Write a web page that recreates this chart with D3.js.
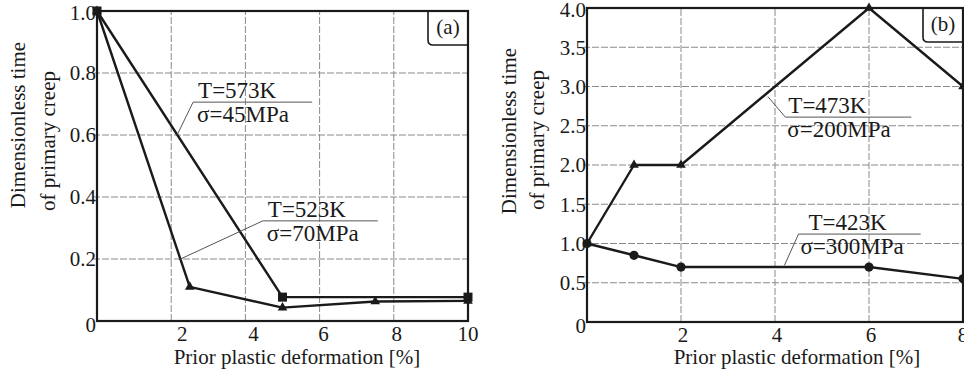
<!DOCTYPE html>
<html>
<head>
<meta charset="utf-8">
<script src="https://cdn.jsdelivr.net/npm/d3@7"></script>
<style>
  html, body { margin: 0; padding: 0; background: #fff; }
  svg { display: block; }
  .grid line { stroke: #8a8a8a; stroke-width: 1; stroke-dasharray: 7,2; }
  .frame { fill: none; stroke: #1a1a1a; stroke-width: 2.2; }
  .series { fill: none; stroke: #1a1a1a; stroke-width: 2.4; stroke-linejoin: round; }
  .leader { fill: none; stroke: #555; stroke-width: 1; }
</style>
</head>
<body>
<svg id="svg" width="964" height="376"></svg>
<script>
// ----- data -----
// panel (a)
const aXTicks = [2, 4, 6, 8, 10];
const aYTicks = [0, 0.2, 0.4, 0.6, 0.8, 1.0];
const aYTickLabels = ["0", "0.2", "0.4", "0.6", "0.8", "1.0"];
const aX573 = [0, 5, 10];
const aY573 = [1.0, 0.077, 0.077];
const aX523 = [0, 2.5, 5, 7.5, 10];
const aY523 = [1.0, 0.11, 0.043, 0.063, 0.065];

// panel (b)
const bXTicks = [2, 4, 6, 8];
const bYTicks = [0, 0.5, 1.0, 1.5, 2.0, 2.5, 3.0, 3.5, 4.0];
const bYTickLabels = ["0", "0.5", "1.0", "1.5", "2.0", "2.5", "3.0", "3.5", "4.0"];
const bX473 = [0, 1, 2, 6, 8];
const bY473 = [1.0, 2.0, 2.0, 4.0, 3.0];
const bX423 = [0, 1, 2, 6, 8];
const bY423 = [1.0, 0.85, 0.7, 0.7, 0.55];

const xTitle = "Prior plastic deformation [%]";
const yTitle1 = "Dimensionless time";
const yTitle2 = "of primary creep";

const FONT = '"Liberation Serif"';
const INK = "#1a1a1a";

const svg = d3.select("#svg");

function zip(xs, ys) { return xs.map((x, i) => ({ x, y: ys[i] })); }

// note: any letter-spacing / dx makes the renderer drop the serif face, so plain text only
function label(g, size, str) {
  return g.append("text")
    .style("font-family", FONT)
    .style("fill", INK)
    .attr("font-size", size)
    .text(str);
}

function marker(g, type, px, py) {
  if (type === "square") {
    g.append("rect").attr("x", px - 4.5).attr("y", py - 4.5)
      .attr("width", 9).attr("height", 9).attr("fill", INK);
  } else if (type === "triangle") {
    g.append("path").attr("d", d3.symbol(d3.symbolTriangle, 40)())
      .attr("transform", `translate(${px},${py})`).attr("fill", INK);
  } else {
    g.append("circle").attr("cx", px).attr("cy", py).attr("r", 4.6).attr("fill", INK);
  }
}

function drawPanel(cfg) {
  const g = svg.append("g");
  const x = d3.scaleLinear().domain(cfg.xDomain).range(cfg.xRange);
  const y = d3.scaleLinear().domain(cfg.yDomain).range(cfg.yRange);
  const [x0, x1] = cfg.xRange;
  const [y0, y1] = cfg.yRange; // y0 bottom, y1 top

  // grid
  const grid = g.append("g").attr("class", "grid");
  grid.selectAll(".gx").data(cfg.xTicks.filter(t => x(t) < x1 - 2)).enter()
    .append("line")
    .attr("x1", d => x(d)).attr("x2", d => x(d))
    .attr("y1", y0).attr("y2", y1);
  grid.selectAll(".gy").data(cfg.yTicks.filter(t => t > cfg.yDomain[0] && t < cfg.yDomain[1])).enter()
    .append("line")
    .attr("x1", x0 - 4).attr("x2", x1)
    .attr("y1", d => y(d)).attr("y2", d => y(d));

  // frame
  g.append("rect").attr("class", "frame")
    .attr("x", x0).attr("y", y1).attr("width", x1 - x0).attr("height", y0 - y1);

  // y tick labels
  cfg.yTicks.forEach((d, i) => {
    label(g, 21, cfg.yTickLabels[i])
      .attr("x", x0 - 1)
      .attr("y", y(d) + (d === 0 ? 4 : 0) + (d === cfg.yDomain[1] ? 2 : 0))
      .attr("dy", "0.35em")
      .attr("text-anchor", "end");
  });

  // x tick labels
  cfg.xTicks.forEach((d, i) => {
    label(g, 21, d)
      .attr("x", x(d) + cfg.xLabelShift[i])
      .attr("y", y0 + 20)
      .attr("text-anchor", "middle");
  });

  // titles
  label(g, 21, xTitle)
    .attr("x", cfg.xTitleX).attr("y", 364)
    .attr("text-anchor", "middle");
  label(g, 21, yTitle1)
    .attr("transform", `translate(${cfg.yTitle1X},${cfg.yTitle1Y}) rotate(-90)`)
    .attr("text-anchor", "middle").attr("dy", "0.35em");
  label(g, 21, yTitle2)
    .attr("transform", `translate(${cfg.yTitle2X},${cfg.yTitle2Y}) rotate(-90)`)
    .attr("text-anchor", "middle").attr("dy", "0.35em");

  // series
  const line = d3.line().x(d => x(d.x)).y(d => y(d.y));
  cfg.series.forEach(s => {
    const pts = zip(s.xs, s.ys);
    g.append("path").attr("class", "series").attr("d", line(pts));
    pts.forEach(p => marker(g, s.marker, x(p.x), y(p.y)));
  });

  // annotations (underlined two-line labels with leader)
  cfg.notes.forEach(n => {
    const ux0 = x(n.ux0), ux1 = x(n.ux1), uy = y(n.uy);
    g.append("line").attr("class", "leader")
      .attr("x1", ux0).attr("x2", ux1).attr("y1", uy).attr("y2", uy);
    g.append("line").attr("class", "leader")
      .attr("x1", ux0).attr("y1", uy).attr("x2", x(n.lx)).attr("y2", y(n.ly));
    label(g, 23, n.line1).attr("x", ux0 + n.dx1).attr("y", uy - 4);
    label(g, 23, n.line2).attr("x", ux0 + n.dx2).attr("y", uy + 20);
  });

  // panel tag box
  const bx = cfg.tag.x, by = y1, bh = cfg.tag.h;
  g.append("path").attr("fill", "none").attr("stroke", INK).attr("stroke-width", 1.6)
    .attr("d", `M${bx},${by} V${by + bh - 5} Q${bx},${by + bh} ${bx + 5},${by + bh} H${x1}`);
  label(g, 21, cfg.tag.label).attr("x", (bx + x1) / 2 + cfg.tag.dx).attr("y", by + 23)
    .attr("text-anchor", "middle");
}

drawPanel({
  xDomain: [0, 10], xRange: [97, 468],
  yDomain: [0, 1.0], yRange: [321, 11],
  xTicks: aXTicks, xLabelShift: [11, 8, 4, 3, 0],
  yTicks: aYTicks, yTickLabels: aYTickLabels,
  xTitleX: 297,
  yTitle1X: 18, yTitle1Y: 125, yTitle2X: 48, yTitle2Y: 141,
  series: [
    { xs: aX573, ys: aY573, marker: "square" },
    { xs: aX523, ys: aY523, marker: "triangle" }
  ],
  notes: [
    { ux0: 2.59, ux1: 5.8, uy: 0.706, lx: 2.16, ly: 0.6, dx1: 5, dx2: 4,
      line1: "T=573K", line2: "σ=45MPa" },
    { ux0: 4.47, ux1: 7.57, uy: 0.323, lx: 2.25, ly: 0.2, dx1: 5, dx2: 4,
      line1: "T=523K", line2: "σ=70MPa" }
  ],
  tag: { x: 428, h: 34, label: "(a)", dx: 0 }
});

drawPanel({
  xDomain: [0, 8], xRange: [587, 963],
  yDomain: [0, 4.0], yRange: [322, 8],
  xTicks: bXTicks, xLabelShift: [2, 2, 2, 0],
  yTicks: bYTicks, yTickLabels: bYTickLabels,
  xTitleX: 797,
  yTitle1X: 509, yTitle1Y: 131, yTitle2X: 537, yTitle2Y: 140,
  series: [
    { xs: bX473, ys: bY473, marker: "triangle" },
    { xs: bX423, ys: bY423, marker: "circle" }
  ],
  notes: [
    { ux0: 4.22, ux1: 6.9, uy: 2.61, lx: 3.85, ly: 2.87, dx1: 3, dx2: 2,
      line1: "T=473K", line2: "σ=200MPa" },
    { ux0: 4.5, ux1: 7.1, uy: 1.12, lx: 4.2, ly: 0.72, dx1: 10, dx2: 2,
      line1: "T=423K", line2: "σ=300MPa" }
  ],
  tag: { x: 923, h: 34, label: "(b)", dx: 0 }
});
</script>
</body>
</html>
